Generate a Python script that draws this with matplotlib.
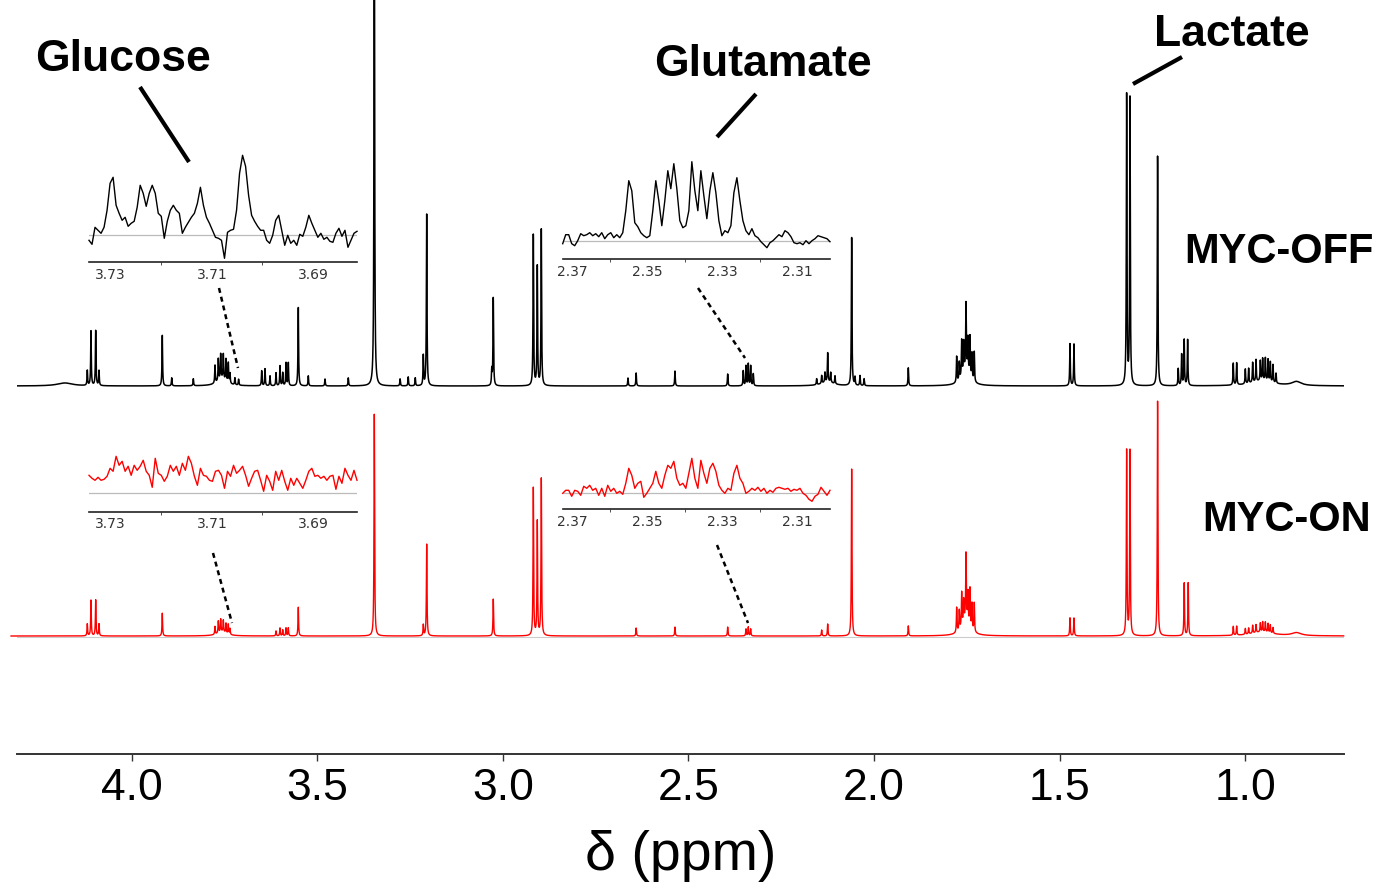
import numpy as np
import matplotlib
matplotlib.use('Agg')
import matplotlib.pyplot as plt
from matplotlib.ticker import MultipleLocator

# ---- peak tables: shift (ppm) and height above baseline ----
off_ppm = [4.1196, 4.1097, 4.0970, 4.0881, 3.9176, 3.8922, 3.834,
           3.7756, 3.7667, 3.7603, 3.7532, 3.7460, 3.7397, 3.7352, 3.722, 3.712,
           3.6498, 3.6409, 3.6274, 3.6112, 3.6005, 3.5932, 3.5843, 3.5781, 3.5512,
           3.5242, 3.4792, 3.4165, 3.3464, 3.277, 3.255, 3.236, 3.2144, 3.2053,
           3.030, 3.0259, 2.918, 2.9073, 2.8965, 2.663, 2.641, 2.5364, 2.3944,
           2.3524, 2.3451, 2.3389, 2.3325, 2.3254,
           2.1547, 2.1412, 2.1323, 2.1250, 2.1169, 2.1053, 2.0604, 2.0514, 2.038, 2.027,
           1.9078, 1.7775, 1.7705, 1.7640, 1.7586, 1.7524, 1.7471, 1.7417, 1.7363, 1.7301,
           1.4722, 1.4615, 1.3196, 1.3106, 1.2362,
           1.1806, 1.1714, 1.1645, 1.1553, 1.0323, 1.0232,
           0.9998, 0.9909, 0.9801, 0.9710, 0.9594, 0.9532, 0.9459, 0.9387, 0.9325,
           0.9252, 0.9171]
off_height = [15, 55, 55, 15, 51, 8, 7,
              18, 22, 25, 25, 22, 20, 10, 7, 6,
              15, 17, 10, 13, 20, 13, 23, 23, 79,
              10, 7, 8, 600, 7, 9, 8, 30, 172,
              15, 88, 151, 119, 156, 8, 13, 15, 12,
              15, 20, 22, 20, 12,
              6, 8, 10, 29, 10, 8, 148, 8, 10, 7,
              18, 26, 18, 36, 30, 66, 34, 40, 26, 30,
              42, 42, 290, 287, 230,
              17, 31, 46, 46, 22, 22,
              15, 15, 20, 22, 20, 22, 23, 22, 20,
              18, 10]

on_ppm = [4.1196, 4.1097, 4.0970, 4.0881, 3.9176,
          3.7756, 3.7667, 3.7603, 3.7532, 3.7460, 3.7397, 3.7352,
          3.6112, 3.6005, 3.5932, 3.5843, 3.5781, 3.5512, 3.3464, 3.2144, 3.2053,
          3.0259, 2.918, 2.9073, 2.8965, 2.641, 2.5364, 2.3944,
          2.3451, 2.3389, 2.3325, 2.1412, 2.1250, 2.0604, 1.9078,
          1.7775, 1.7705, 1.7640, 1.7586, 1.7524, 1.7471, 1.7417, 1.7363, 1.7301,
          1.4722, 1.4615, 1.3196, 1.3106, 1.2362, 1.1645, 1.1537,
          1.0323, 1.0232, 0.9998, 0.9909, 0.9801, 0.9710, 0.9594, 0.9532, 0.9459,
          0.9387, 0.9325, 0.9252]
on_height = [12, 36, 36, 12, 23,
             8, 12, 13, 12, 10, 10, 6,
             5, 8, 6, 8, 8, 29, 223, 11, 92,
             37, 148, 114, 157, 8, 9, 9,
             7, 9, 7, 6, 12, 167, 10,
             25, 20, 34, 22, 66, 30, 38, 26, 29,
             18, 18, 185, 185, 235, 53, 53,
             9, 9, 6, 6, 8, 8, 9, 10, 10,
             9, 8, 6]

# broad humps under the multiplets: shift, height, width (ppm)
off_broad = [(1.753, 16, 0.025), (3.757, 7, 0.03), (0.955, 5, 0.07),
             (0.862, 4, 0.03), (4.18, 3, 0.05), (2.125, 4, 0.04)]
on_broad = [(1.753, 16, 0.025), (3.757, 4, 0.03), (0.955, 4, 0.07), (0.862, 3, 0.03)]

# ---- zoomed insets, traced point by point ----
glc_range = (3.7343, 3.6813)
glc_off = [-5, -9, 8, 5, 2, 8, 25, 52, 58, 30,
           22, 15, 18, 9, 12, 14, 28, 50, 42, 29,
           42, 50, 42, 22, 19, -3, 14, 25, 30, 25,
           22, 2, 8, 13, 18, 22, 32, 48, 30, 18,
           12, 5, -2, -3, -5, -23, 3, 5, 6, 25,
           62, 80, 69, 40, 20, 14, 9, 5, 5, -5,
           -8, 0, 15, 20, 5, -10, 0, -8, -5, -10,
           1, -1, 8, 20, 12, 5, -2, 2, -4, -2,
           -6, -7, 2, 7, -1, 5, -12, -5, 2, 4]
glc_on = [18, 15, 13, 16, 13, 14, 17, 25, 22, 37,
          28, 32, 22, 27, 18, 28, 23, 27, 33, 22,
          18, 6, 35, 20, 18, 12, 17, 28, 22, 27,
          18, 30, 23, 37, 30, 17, 8, 25, 18, 17,
          13, 12, 22, 23, 18, 5, 22, 17, 28, 20,
          23, 27, 18, 7, 15, 22, 23, 13, 2, 18,
          12, 3, 22, 13, 23, 12, 3, 15, 8, 15,
          10, 5, 13, 22, 25, 17, 18, 15, 17, 13,
          17, 18, 4, 17, 10, 25, 18, 13, 23, 13]

glu_range = (2.3725, 2.3013)
glu_off = [-3, 6, 6, -3, -5, 0, 7, 5, 6, 8,
           5, 7, 4, 8, 2, 6, 8, 3, 6, 3,
           8, 30, 60, 50, 18, 14, 8, 5, 3, 5,
           30, 60, 40, 15, 40, 70, 52, 77, 52, 20,
           13, 15, 30, 79, 50, 30, 70, 45, 22, 50,
           68, 48, 20, 5, 10, 8, 15, 48, 63, 40,
           20, 10, 6, 12, 5, 3, -1, -4, -7, -2,
           0, 3, 6, 4, 10, 8, 4, -2, -3, -2,
           -4, 0, -3, 0, 2, 5, 4, 3, 2, -1]
glu_on = [0, 3, 3, -3, 3, 2, -2, 7, 5, 8,
          3, 5, -2, 5, -3, 8, 2, 5, 0, 2,
          -1, 10, 25, 18, 5, 10, 12, -4, 0, 5,
          10, 22, 10, 5, 18, 28, 25, 32, 15, 8,
          10, 5, 20, 35, 15, 5, 33, 20, 10, 25,
          30, 22, 8, 3, 0, 5, 3, 20, 28, 15,
          10, 0, 2, 5, 3, 6, 2, 5, 0, 3,
          1, 5, 6, 5, 4, 5, 2, 4, 3, 5,
          0, -2, -6, -8, -3, -1, 6, 2, -2, 3]

main_ticks = [4.0, 3.5, 3.0, 2.5, 2.0, 1.5, 1.0]


def lorentz_sum(x, centres, heights, fwhm=0.0019):
    y = np.zeros_like(x)
    for c, h in zip(centres, heights):
        y += h / (1 + ((x - c) / (fwhm / 2)) ** 2)
    return y


def broad_sum(x, humps):
    y = np.zeros_like(x)
    for c, h, w in humps:
        y += h / (1 + ((x - c) / (w / 2)) ** 2)
    return y


W, H = 1384, 889
fig = plt.figure(figsize=(W / 100, H / 100), dpi=100)


def px_axes(x0, x1, ytop, ybot):
    return fig.add_axes([x0 / W, 1 - ybot / H, (x1 - x0) / W, (ybot - ytop) / H])


# main spectrum axes (y in pixel-like units, baselines stacked)
ax = px_axes(17, 1344, 0, 754)
ax.set_facecolor('none')
grid = np.linspace(4.325, 0.735, 18000)
spec_off = lorentz_sum(grid, off_ppm, off_height) + broad_sum(grid, off_broad)
spec_on = lorentz_sum(grid, on_ppm, on_height) + broad_sum(grid, on_broad)
base_off, base_on = 368, 118
ax.axhline(base_on - 1, color='#cccccc', lw=0.8, zorder=1)
ax.plot(grid, spec_on + base_on, color='red', lw=1.0, zorder=2, clip_on=False)
ax.plot(grid, spec_off + base_off, color='black', lw=1.1, zorder=3)
ax.set_xlim(4.309, 0.734)
ax.set_ylim(0, 754)
for s in ['left', 'right', 'top']:
    ax.spines[s].set_visible(False)
ax.spines['bottom'].set_color('#333333')
ax.spines['bottom'].set_linewidth(1.4)
ax.set_yticks([])
ax.set_xticks(main_ticks)
ax.set_xticklabels([f'{t:.1f}' for t in main_ticks],
                   family=['Liberation Sans', 'DejaVu Sans'], fontsize=32)
ax.tick_params(axis='x', length=5, width=1, color='#333333', pad=5)
ax.set_xlabel('δ (ppm)', family=['Liberation Sans', 'DejaVu Sans'],
              fontsize=40, labelpad=15)


def inset(x0, x1, ytop, ybot, base_px, rng, vals, ticks, colour):
    a = px_axes(x0, x1, ytop, ybot)
    a.set_facecolor('none')
    xs = np.linspace(rng[0], rng[1], len(vals))
    a.axhline(0, color='#bbbbbb', lw=0.9, zorder=1)
    a.plot(xs, vals, color=colour, lw=1.0, zorder=2, clip_on=False)
    a.set_xlim(rng)
    a.set_ylim(-(ybot - base_px), base_px - ytop)
    for s in ['left', 'right', 'top']:
        a.spines[s].set_visible(False)
    a.spines['bottom'].set_color('#222222')
    a.spines['bottom'].set_linewidth(1.2)
    a.set_yticks([])
    a.set_xticks(ticks)
    a.set_xticklabels([f'{t:.2f}' for t in ticks], fontsize=10, color='#333333')
    a.xaxis.set_minor_locator(MultipleLocator(0.01))
    a.tick_params(axis='x', which='major', length=0, pad=4)
    a.tick_params(axis='x', which='minor', length=2.5, color='#333333')
    return a


inset(89, 357, 150, 262.3, 235.3, glc_range, glc_off, [3.73, 3.71, 3.69], 'black')
inset(89, 357, 445, 511.7, 493.3, glc_range, glc_on, [3.73, 3.71, 3.69], 'red')
inset(562.7, 830, 155, 259.3, 240.7, glu_range, glu_off, [2.37, 2.35, 2.33, 2.31], 'black')
inset(562.7, 830, 450, 509, 493.3, glu_range, glu_on, [2.37, 2.35, 2.33, 2.31], 'red')

# annotation layer in pixel coordinates
ov = fig.add_axes([0, 0, 1, 1])
ov.set_facecolor('none')
ov.set_xlim(0, W)
ov.set_ylim(H, 0)
ov.axis('off')

lab = dict(family=['Liberation Sans', 'DejaVu Sans'], weight='bold',
           ha='center', va='baseline', color='black')
ov.text(123, 71, 'Glucose', fontsize=32, **lab)
ov.text(763, 76, 'Glutamate', fontsize=32, **lab)
ov.text(1232, 46, 'Lactate', fontsize=32, **lab)
ov.text(1279, 263, 'MYC-OFF', fontsize=30, **lab)
ov.text(1287, 531, 'MYC-ON', fontsize=30, **lab)

for (xa, ya), (xb, yb) in [((140, 87), (189, 162)),
                           ((756, 94), (717, 137)),
                           ((1182, 57), (1133, 84))]:
    ov.plot([xa, xb], [ya, yb], color='black', lw=3, solid_capstyle='butt')

for (xa, ya), (xb, yb) in [((219, 288), (238, 368)),
                           ((698, 288), (745, 358)),
                           ((213, 553), (232, 623)),
                           ((717, 545), (748, 623))]:
    ov.plot([xa, xb], [ya, yb], color='black', lw=1.8, linestyle=(0, (2, 1.6)))

fig.savefig('out.png', dpi=100)
